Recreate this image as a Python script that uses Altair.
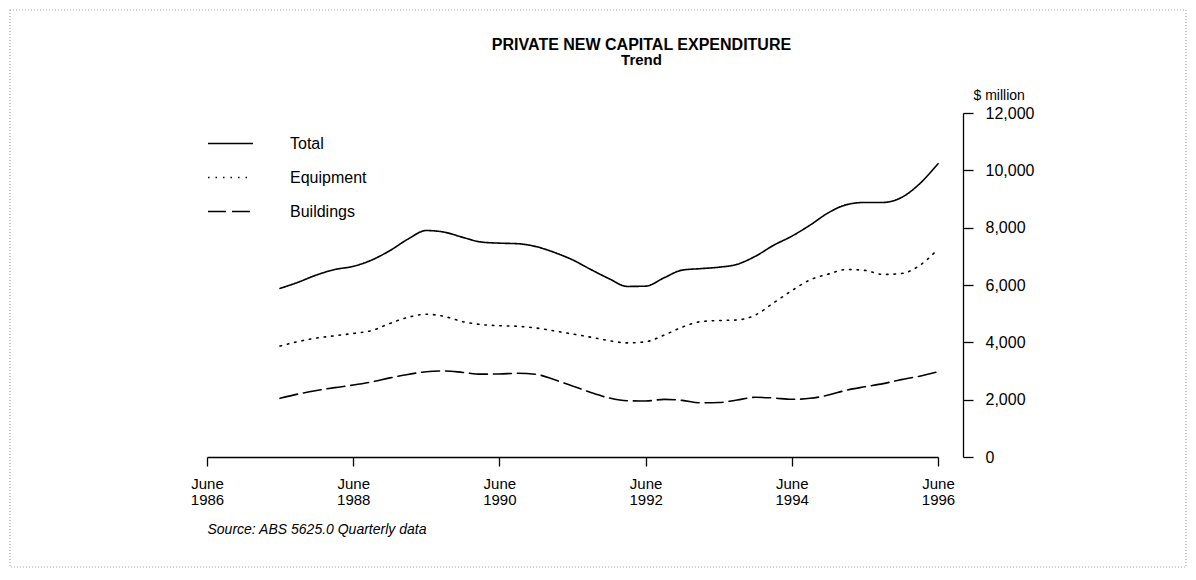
import altair as alt
import pandas as pd

# Quarterly periods, June 1987 .. June 1996
quarters = pd.date_range("1987-06-01", "1996-06-01", freq="3MS").strftime("%Y-%m-%d").tolist()

total = [5880, 6100, 6350, 6540, 6650, 6870, 7200, 7600, 7900, 7840,
         7660, 7500, 7460, 7440, 7340, 7140, 6880, 6540, 6220, 5950,
         5960, 6250, 6520, 6570, 6620, 6720, 7000, 7380, 7700, 8090,
         8520, 8800, 8880, 8880, 9050, 9530, 10230]
equipment = [3870, 4030, 4150, 4230, 4310, 4410, 4660, 4870, 4980, 4900,
             4720, 4620, 4580, 4560, 4500, 4400, 4290, 4180, 4060, 3980,
             4020, 4250, 4530, 4720, 4760, 4780, 4950, 5370, 5800, 6180,
             6380, 6540, 6510, 6370, 6400, 6680, 7250]
buildings = [2047, 2200, 2320, 2420, 2511, 2620, 2760, 2880, 2975, 3000,
             2950, 2890, 2896, 2919, 2884, 2700, 2480, 2250, 2060, 1960,
             1953, 2010, 1975, 1890, 1900, 1990, 2082, 2060, 2012, 2047,
             2160, 2330, 2450, 2560, 2700, 2820, 2975]

series_names = ["Total", "Equipment", "Buildings"]
series_dash = [[1, 0], [1.5, 6], [18, 6]]

x_ticks = ["1986-06-01", "1988-06-01", "1990-06-01", "1992-06-01", "1994-06-01", "1996-06-01"]
y_ticks = [0, 2000, 4000, 6000, 8000, 10000, 12000]

rows = []
for name, vals in zip(series_names, [total, equipment, buildings]):
    for d, v in zip(quarters, vals):
        rows.append({"date": d, "value": v, "series": name})
df = pd.DataFrame(rows)

FONT = "Liberation Sans"

lines = alt.Chart(df).mark_line(
    color="black", strokeWidth=1.6, strokeCap="round", interpolate="monotone"
).encode(
    x=alt.X(
        "date:T",
        scale=alt.Scale(domain=[x_ticks[0], x_ticks[-1]], nice=False),
        axis=alt.Axis(
            values=[alt.DateTime(year=int(t[:4]), month=6, date=1) for t in x_ticks],
            labelExpr="['June', timeFormat(datum.value, '%Y')]",
            grid=False, domainColor="black", domainWidth=1.6,
            tickColor="black", tickWidth=1.3, tickSize=9,
            labelFont=FONT, labelFontSize=15, labelColor="black",
            labelPadding=10, labelLineHeight=16, labelFlush=False,
            title="Source: ABS 5625.0 Quarterly data",
            titleFont=FONT, titleFontSize=14, titleFontStyle="italic",
            titleFontWeight="normal", titleColor="black",
            titleAnchor="start", titleAlign="left", titleX=0, titleY=72,
            titleBaseline="middle",
        ),
    ),
    y=alt.Y(
        "value:Q",
        scale=alt.Scale(domain=[0, 12000], nice=False),
        axis=alt.Axis(
            orient="right", offset=25, values=y_ticks, format=",d",
            grid=False, domainColor="black", domainWidth=1.3,
            tickColor="black", tickWidth=1.3, tickSize=10,
            labelFont=FONT, labelFontSize=16, labelColor="black",
            labelPadding=12, labelAlign="left",
            title="$ million", titleAngle=0, titleAlign="left",
            titleBaseline="middle", titleX=10, titleY=-18,
            titleFont=FONT, titleFontSize=14, titleFontWeight="normal",
            titleColor="black",
        ),
    ),
    strokeDash=alt.StrokeDash(
        "series:N",
        scale=alt.Scale(domain=series_names, range=series_dash),
        legend=alt.Legend(
            title=None, orient="none", legendX=0, legendY=7,
            symbolType="stroke", symbolSize=2025, symbolStrokeWidth=1.5,
            symbolStrokeColor="black",
            labelFont=FONT, labelFontSize=16, labelColor="black",
            labelOffset=36, rowPadding=2,
        ),
    ),
)

# light stippled frame around the whole figure
border = alt.Chart(pd.DataFrame({"k": [0]})).mark_rect(
    fill=None, stroke="#aaaaaa", strokeWidth=1.2, strokeDash=[1, 2]
).encode(
    x=alt.value(-197), x2=alt.value(979), y=alt.value(-103), y2=alt.value(454)
)

chart = alt.layer(border, lines).properties(
    width=731, height=344,
    background="white",
    autosize=alt.AutoSizeParams(type="none"),
    padding={"left": 199, "top": 105, "right": 250, "bottom": 115},
    title=alt.TitleParams(
        "PRIVATE NEW CAPITAL EXPENDITURE", subtitle="Trend",
        anchor="middle", dx=69, offset=-59,
        font=FONT, fontSize=16, fontWeight="bold", color="black",
        subtitleFont=FONT, subtitleFontSize=15, subtitleFontWeight="bold",
        subtitleColor="black", subtitlePadding=0,
    ),
).configure_view(stroke="transparent", strokeWidth=0)

chart.save("out.html", embed_options={"renderer": "svg", "actions": False})
